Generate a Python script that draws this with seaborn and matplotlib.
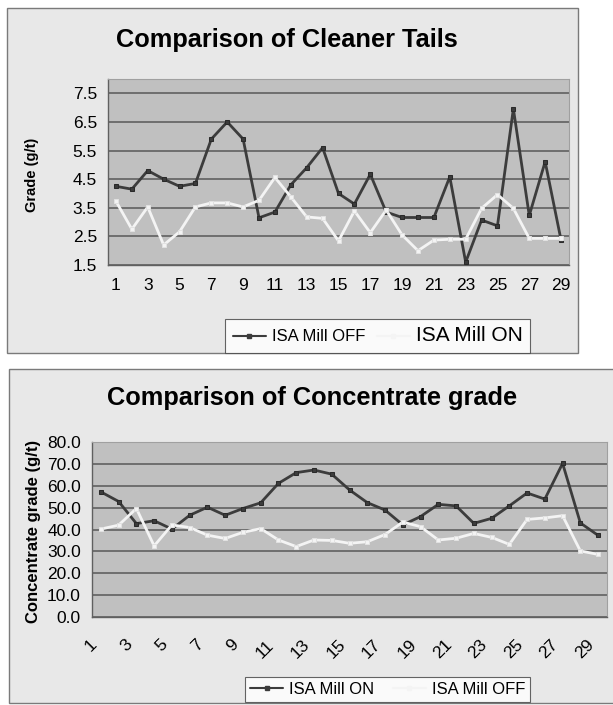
import matplotlib
matplotlib.use("Agg")
import matplotlib.pyplot as plt
import seaborn as sns
import pandas as pd
from matplotlib.patches import Rectangle
from matplotlib.lines import Line2D
from matplotlib.ticker import FixedLocator, FormatStrFormatter
from matplotlib.transforms import ScaledTranslation

# ---------------- data ----------------
samples = list(range(1, 30))
tick_labels = [str(i) for i in range(1, 30, 2)]

tails_off = [4.25, 4.15, 4.8, 4.5, 4.25, 4.35, 5.9, 6.5, 5.9, 3.15,
             3.35, 4.3, 4.9, 5.6, 4.0, 3.63, 4.67, 3.35, 3.16, 3.16,
             3.16, 4.58, 1.6, 3.07, 2.87, 6.96, 3.23, 5.11, 2.37]
tails_on = [3.73, 2.75, 3.53, 2.2, 2.66, 3.53, 3.67, 3.67, 3.53, 3.76,
            4.56, 3.88, 3.18, 3.13, 2.34, 3.39, 2.63, 3.42, 2.55, 2.0,
            2.37, 2.4, 2.4, 3.48, 3.96, 3.48, 2.43, 2.43, 2.43]

conc_on = [57.2, 52.8, 42.7, 44.0, 40.2, 46.5, 50.2, 46.5, 49.6, 52.2,
           61.1, 66.0, 67.2, 65.3, 58.1, 52.3, 48.9, 42.1, 45.9, 51.5,
           50.8, 42.8, 45.1, 50.8, 56.7, 53.9, 70.2, 43.0, 37.3]
conc_off = [40.2, 42.0, 49.6, 32.5, 42.1, 40.9, 37.4, 35.9, 38.7, 40.4,
            35.2, 32.2, 35.2, 35.0, 33.7, 34.4, 37.7, 43.4, 41.3, 35.2,
            36.0, 38.2, 36.4, 33.2, 44.6, 45.3, 46.3, 30.2, 28.6]

# ---------------- style ----------------
sns.set_style("white")
plt.rcParams['font.family'] = ['Liberation Sans', 'DejaVu Sans']
for k in ['text.color', 'axes.labelcolor', 'xtick.color', 'ytick.color']:
    plt.rcParams[k] = 'black'

W, H = 613, 705
fig = plt.figure(figsize=(W / 100, H / 100), dpi=100)
fig.patch.set_facecolor('white')


def fx(px):
    return px / W


def fy(py):
    return 1 - py / H


PANEL = '#E8E8E8'
PLOT = '#C0C0C0'
GRID = '#6E6E6E'
DARK = '#3C3C3C'
LIGHT = '#F4F4F4'

fig.patches.append(Rectangle((fx(7), fy(353)), (578 - 7) / W, (353 - 8) / H,
                             transform=fig.transFigure, facecolor=PANEL,
                             edgecolor='#7A7A7A', lw=1.0, zorder=-5))
fig.patches.append(Rectangle((fx(9), fy(703)), (720 - 9) / W, (703 - 369) / H,
                             transform=fig.transFigure, facecolor=PANEL,
                             edgecolor='#7A7A7A', lw=1.0, zorder=-5))


def style_axes(ax, ylim, yticks, fmt):
    ax.set_zorder(2)
    ax.set_facecolor(PLOT)
    ax.set_xlim(0.5, 29.5)
    ax.set_ylim(*ylim)
    ax.yaxis.set_major_locator(FixedLocator(yticks))
    ax.yaxis.set_major_formatter(FormatStrFormatter(fmt))
    ax.xaxis.set_major_locator(FixedLocator(list(range(1, 30, 2))))
    ax.set_xticklabels(tick_labels)
    ax.xaxis.set_minor_locator(FixedLocator([i + 0.5 for i in range(0, 30)]))
    ax.tick_params(axis='x', which='major', length=0)
    ax.tick_params(axis='x', which='minor', length=5, width=1, color='#606060', direction='out')
    ax.tick_params(axis='y', which='major', length=5, width=1, color='#606060', direction='out',
                   labelsize=12.5, pad=3)
    ax.yaxis.grid(True, color=GRID, lw=1.4)
    ax.xaxis.grid(False)
    ax.set_axisbelow(True)
    for s in ['top', 'right']:
        ax.spines[s].set_color('#A0A0A0')
        ax.spines[s].set_linewidth(0.8)
    for s in ['left', 'bottom']:
        ax.spines[s].set_color('#606060')
        ax.spines[s].set_linewidth(1.0)
    ax.set_xlabel('')


def style_legend(leg):
    leg.get_frame().set_facecolor('white')
    leg.get_frame().set_edgecolor('#404040')
    leg.get_frame().set_linewidth(0.8)


# ---------------- top chart ----------------
ax1 = fig.add_axes([fx(108), fy(265), 461 / W, 186 / H])
df_t = pd.DataFrame({'Sample': samples, 'OFF': tails_off, 'ON': tails_on})
sns.lineplot(data=df_t, x='Sample', y='OFF', ax=ax1, color=DARK, lw=2.0,
             marker='s', markersize=3.2, markeredgecolor='#2A2A2A', zorder=3)
sns.lineplot(data=df_t, x='Sample', y='ON', ax=ax1, color=LIGHT, lw=2.0,
             marker='s', markersize=3.0, markeredgecolor='#E2E2E2', zorder=3)
style_axes(ax1, (1.5, 8.0), [1.5, 2.5, 3.5, 4.5, 5.5, 6.5, 7.5], '%.1f')
ax1.tick_params(axis='x', which='major', labelsize=12.5, pad=9)
ax1.set_ylabel('')

fig.text(fx(287), fy(40), 'Comparison of Cleaner Tails', ha='center', va='center',
         fontsize=18.3, fontweight='bold')
fig.text(fx(32), fy(175), 'Grade (g/t)', ha='center', va='center', rotation=90,
         fontsize=10.5, fontweight='bold')

h_off = Line2D([], [], color=DARK, lw=1.5, marker='s', markersize=2.5)
h_on = Line2D([], [], color=LIGHT, lw=1.5, marker='s', markersize=2.5)
leg1 = fig.legend([h_off, h_on], ['ISA Mill OFF', 'ISA Mill ON'], loc='lower left',
                  bbox_to_anchor=(fx(225), fy(353)), ncol=2, frameon=True,
                  fontsize=12, handlelength=2.0, handletextpad=0.35, columnspacing=0.7,
                  borderpad=0.45, fancybox=False, borderaxespad=0)
style_legend(leg1)
leg1.get_texts()[1].set_fontsize(15)

# ---------------- bottom chart ----------------
ax2 = fig.add_axes([fx(92), fy(617), 515 / W, 175 / H])
df_c = pd.DataFrame({'Sample': samples, 'ON': conc_on, 'OFF': conc_off})
sns.lineplot(data=df_c, x='Sample', y='ON', ax=ax2, color=DARK, lw=2.0,
             marker='s', markersize=3.2, markeredgecolor='#2A2A2A', zorder=3)
sns.lineplot(data=df_c, x='Sample', y='OFF', ax=ax2, color=LIGHT, lw=2.0,
             marker='s', markersize=3.0, markeredgecolor='#E2E2E2', zorder=3)
style_axes(ax2, (0, 80), list(range(0, 90, 10)), '%.1f')
ax2.tick_params(axis='x', which='major', labelsize=12.5, pad=8)
ax2.set_ylabel('')
shift = ScaledTranslation(-0.12, -0.09, fig.dpi_scale_trans)
for tick in ax2.xaxis.get_major_ticks():
    lab = tick.label1
    lab.set_rotation(45)
    lab.set_ha('right')
    lab.set_va('top')
    lab.set_rotation_mode('anchor')
    lab.set_transform(lab.get_transform() + shift)

fig.text(fx(312), fy(398), 'Comparison of Concentrate grade', ha='center', va='center',
         fontsize=18.3, fontweight='bold')
fig.text(fx(34), fy(531), 'Concentrate grade (g/t)', ha='center', va='center', rotation=90,
         fontsize=12, fontweight='bold')

h_on2 = Line2D([], [], color=DARK, lw=1.5, marker='s', markersize=2.5)
h_off2 = Line2D([], [], color=LIGHT, lw=1.5, marker='s', markersize=2.5)
leg2 = fig.legend([h_on2, h_off2], ['ISA Mill ON', 'ISA Mill OFF'], loc='lower left',
                  bbox_to_anchor=(fx(245), fy(702)), ncol=2, frameon=True,
                  fontsize=12, handlelength=2.0, handletextpad=0.35, columnspacing=1.1,
                  borderpad=0.3, fancybox=False, borderaxespad=0)
style_legend(leg2)

fig.savefig('out.png', dpi=100)
